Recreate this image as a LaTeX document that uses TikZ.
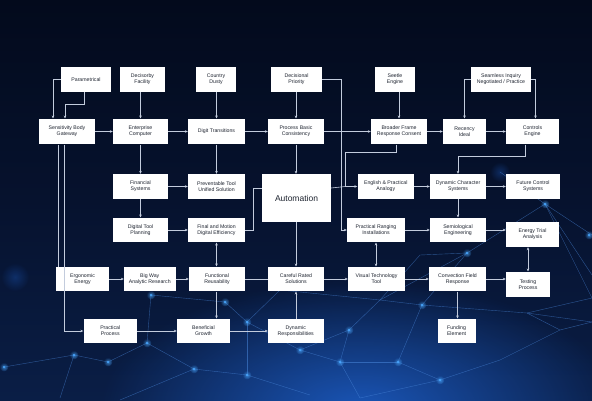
\documentclass[tikz,border=0pt]{standalone}
\usepackage{fontspec}
\setmainfont{Liberation Sans}
\usetikzlibrary{arrows.meta,fadings}
\definecolor{bgtop}{HTML}{030A1C}
\definecolor{bgmid}{HTML}{06122E}
\definecolor{bgbot}{HTML}{0A1E46}
\definecolor{glowc}{HTML}{1C5CC4}
\definecolor{netc}{HTML}{4A88DC}
\definecolor{dotc}{HTML}{4AA8FF}
\definecolor{conc}{HTML}{C3CCDD}
\definecolor{txtc}{HTML}{1E2430}
\tikzfading[name=glowfade, inner color=transparent!0, outer color=transparent!100]
\tikzset{
 box/.style={fill=white, inner sep=0.5pt, align=center,
   font=\fontsize{5.2}{6.1}\selectfont, text=txtc},
 conn/.style={draw=conc, line width=0.6pt},
 arr/.style={conn, -{Stealth[length=3pt,width=2.6pt]}},
 darr/.style={conn, {Stealth[length=3pt,width=2.6pt]}-{Stealth[length=3pt,width=2.6pt]}},
 net/.style={draw=netc, line width=0.4pt, opacity=0.55},
}
\newcommand{\bx}[6]{\node[box, minimum width={#4-#2}, minimum height={#5-#3}] (#1) at ({(#2+#4)/2},{(#3+#5)/2}) {#6};}
\newcommand{\glowdot}[2]{\fill[dotc, path fading=glowfade, opacity=0.7] (#1,#2) circle (4.5);\fill[dotc] (#1,#2) circle (1.2);}
\begin{document}
\begin{tikzpicture}[x=1pt,y=-1pt]
% background
\useasboundingbox (0,0) rectangle (592,400);
\fill[top color=bgtop, bottom color=bgbot, middle color=bgmid] (0,0) rectangle (592,400);
\fill[glowc, path fading=glowfade, opacity=0.9] (360,410) ellipse (260 and 130);
\fill[glowc, path fading=glowfade, opacity=0.35] (15,277) circle (14);
\fill[glowc, path fading=glowfade, opacity=0.35] (500,172) circle (10);
% network
\foreach \n/\x/\y in {n1/545/204,n2/500/172,n3/592/235,n4/467/253,n5/422/305,n6/398/362,n7/349/330,n8/340/362,
  n9/247/375,n10/194/369,n11/151/295,n12/147/343,n13/108/362,n14/74/355,n15/4/367,n16/247/322,n17/225/302,
  n18/527/313,n19/592/322,n20/592/298,n21/310/395,n22/360/398,n23/440/380,n24/500/360,n25/560/330,n26/120/400,
  n27/60/398,n28/280/290,n29/300/350,n30/420/255,n31/380/300,n32/592/275}
  {\coordinate (\n) at (\x,\y);}
\foreach \a/\b in {n1/n3,n1/n4,n1/n20,n2/n1,n4/n5,n4/n30,n5/n31,n5/n6,n5/n18,n18/n19,n18/n20,n18/n25,n6/n8,
  n6/n23,n7/n8,n7/n31,n7/n29,n8/n22,n9/n16,n9/n10,n9/n21,n10/n12,n10/n26,n11/n12,n11/n17,n12/n13,n13/n14,
  n14/n15,n14/n27,n16/n17,n16/n28,n16/n29,n29/n8,n23/n24,n24/n25,n25/n19,n4/n31,n30/n31,n1/n32,n28/n31,n23/n22}
  {\draw[net] (\a) -- (\b);}
\foreach \x/\y in {545/204,467/253,422/305,398/362,349/330,340/362,247/375,194/369,151/295,147/343,108/362,
  74/355,4/367,247/322,225/302,589/235,440/380,300/350}
  {\glowdot{\x}{\y}}
% boxes
\bx{A1}{61}{66.7}{111}{92}{Parametrical}
\bx{A2}{120}{66.7}{165}{92}{Decisorby\\Facility}
\bx{A3}{196}{66.7}{236}{92}{Country\\Dusty}
\bx{A4}{271}{66.7}{322}{92}{Decisional\\Priority}
\bx{A5}{375}{66.7}{415}{92}{Seetle\\Engine}
\bx{A6}{471}{66.7}{531}{92}{Seamless Inquiry\\Negotiated / Practice}
\bx{B1}{39}{118.7}{95}{144.3}{Sensitivity Body\\Gateway}
\bx{B2}{113}{118.7}{168}{144.3}{Enterprise\\Computer}
\bx{B3}{188}{118.7}{245}{144.3}{Digit Transitions}
\bx{B4}{268}{118.7}{324}{144.3}{Process Basic\\Consistency}
\bx{B5}{371}{118.7}{427}{144.3}{Broader Frame\\Response Consent}
\bx{B6}{443}{118.7}{486}{144.3}{Recency\\Ideal}
\bx{B7}{506}{118.7}{559}{144.3}{Controls\\Engine}
\bx{C1}{113}{174}{168}{199}{Financial\\Systems}
\bx{C2}{188}{174}{245}{199}{Preventable Tool\\Unified Solution}
\node[box, font=\fontsize{8.5}{10}\selectfont, minimum width=69, minimum height=48] (AU) at (296.5,198) {Automation};
\bx{C4}{357.5}{174}{414}{199}{English \& Practical\\Analogy}
\bx{C5}{430}{174}{486}{199}{Dynamic Character\\Systems}
\bx{C6}{506}{174}{560}{199}{Future Control\\Systems}
\bx{D1}{113}{217.7}{168}{242.3}{Digital Tool\\Planning}
\bx{D2}{188}{217.7}{245}{242.3}{Final and Motion\\Digital Efficiency}
\bx{D4}{347}{217.7}{405}{242.3}{Practical Ranging\\Installations}
\bx{D5}{430}{217.7}{486}{242.3}{Semiological\\Engineering}
\bx{D6}{506}{222}{559}{247}{Energy Trial\\Analysis}
\bx{E1}{56}{266.7}{109}{291.3}{Ergonomic\\Energy}
\bx{E2}{124}{266.7}{175.5}{291.3}{Big Way\\Analytic Research}
\bx{E3}{189}{266.7}{245}{291.3}{Functional\\Reusability}
\bx{E4}{268}{266.7}{324}{291.3}{Careful Rated\\Solutions}
\bx{E5}{348}{266.7}{405}{291.3}{Visual Technology\\Tool}
\bx{E6}{429}{266.7}{486}{291.3}{Convection Field\\Response}
\bx{E7}{506}{271.7}{550}{297.3}{Testing\\Process}
\bx{F1}{83.5}{318.7}{137}{343.3}{Practical\\Process}
\bx{F2}{177}{318.7}{230}{343.3}{Beneficial\\Growth}
\bx{F3}{268}{318.7}{323.5}{343.3}{Dynamic\\Responsibilities}
\bx{F4}{437.5}{318.7}{475.6}{343.3}{Funding\\Element}
% connectors: top row to second row
\draw[arr] (A1.west) -| ([xshift=-14pt]B1.north);
\draw[arr] ([xshift=-2pt]A1.south) -- ++(0,12) -| ([xshift=-2pt]B1.north);
\draw[arr] (B2.north |- A2.south) -- (B2.north);
\draw[arr] (B3.north |- A3.south) -- (B3.north);
\draw[arr] (B4.north |- A4.south) -- (B4.north);
\draw[arr] (B5.north |- A5.south) -- (B5.north);
\draw[arr] (A4.east) -- ++(19,0) |- (D4.west);
\draw[arr] (A6.west) -| (B6.north);
\draw[arr] (A6.east) -| ([xshift=3pt]B7.north);
% second row
\draw[arr] (B1) -- (B2);
\draw[arr] (B2) -- (B3);
\draw[arr] (B3) -- (B4);
\draw[arr] (B4) -- (B5);
\draw[arr] (B5) -- (B6);
\draw[arr] (B6) -- (B7);
\draw[conn] ([xshift=-9pt]B1.south) -- ([xshift=-9pt]B1.south |- E1.north);
\draw[arr] ([xshift=-3pt]B1.south) |- (F1.west);
\draw[arr] (B2.south) -- (B2.south |- C1.north);
\draw[arr] (B3.south) -- (B3.south |- C2.north);
\draw[arr] (B4.south) -- (B4.south |- AU.north);
\draw[arr] ([xshift=-3pt]B5.south) -- ++(0,7.5) -| ([xshift=-12pt]C4.west) -- (C4.west);
\draw[arr] ([xshift=-7.5pt]B7.south) -- ++(0,11.7) -| (C5.north);
% third and fourth rows
\draw[arr] (C1) -- (C2);
\draw[arr] (C1) -- (D1);
\draw[arr] (D1) -- (D2);
\draw[conn] (D2.east) -- ++(8,0) |- ([yshift=10pt]AU.west);
\draw[conn] ([yshift=10pt]AU.east) -- ([xshift=-12pt]C4.west);
\draw[arr] (C4) -- (C5);
\draw[arr] (C5) -- (C6);
\draw[arr] (C5) -- (D5);
\draw[arr] (D4) -- (D5);
\draw[arr] (D5.east) -- (D6.west |- D5.east);
\draw[darr] (B3.south |- D2.south) -- (B3.south |- E3.north);
\draw[arr] (B4.south |- AU.south) -- (B4.south |- E4.north);
\draw[darr] (D4.south) -- (D4.south |- E5.north);
\draw[darr] (E7.north |- D6.south) -- (E7.north);
% fifth row
\draw[arr] (E1) -- (E2);
\draw[arr] (E2) -- (E3);
\draw[conn] (E3) -- (E4);
\draw[arr] (E4) -- (E5);
\draw[arr] (E5) -- (E6);
\draw[arr] (E6.east) -- (E7.west |- E6.east);
\draw[arr] (B3.south |- E3.south) -- (B3.south |- F2.north);
\draw[arr] (B4.south |- F3.north) -- (B4.south |- E4.south);
\draw[arr] (E6.south) -- (E6.south |- F4.north);
% bottom row
\draw[arr] (F1) -- (F2);
\draw[arr] (F2) -- (F3);
\end{tikzpicture}
\end{document}
